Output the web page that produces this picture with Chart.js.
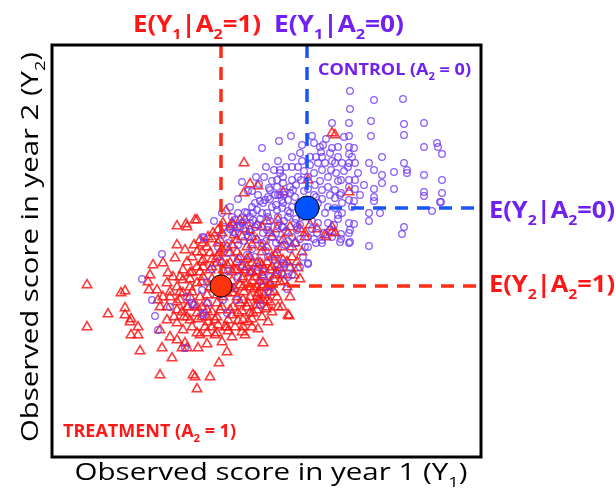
<!DOCTYPE html>
<html>
<head>
<meta charset="utf-8">
<script src="https://cdn.jsdelivr.net/npm/chart.js@4.4.0/dist/chart.umd.min.js"></script>
<style>
body { margin: 0; background: #fff; }
#wrap { width: 616px; height: 492px; }
</style>
</head>
<body>
<div id="wrap"><canvas id="chart" width="616" height="492"></canvas></div>
<script>
// observed scores (year 1, year 2)
const controlPoints = [
  [280,334],[239,321],[227,316],[260,321],[210,309],[280,309],[269,305],[271,312],[270,300],[266,294],[273,294],[240,290],[222,287],[228,287],[246,290],[279,287],[270,287],[231,280],[240,277],[249,277],[190,275],[217,269],[225,270],[233,265],[241,267],[263,272],[270,267],[276,270],[223,262],[230,257],[236,257],[243,260],[213,257],[203,254],[220,250],[230,249],[193,245],[201,244],[210,244],[216,240],[226,240],[236,240],[266,254],[273,244],[276,234],[266,234],[183,237],[190,234],[203,230],[216,230],[230,230],[243,234],[183,224],[196,220],[220,220],[240,220],[256,220],[270,217],[278,227],[186,212],[210,214],[233,212],[253,210],[270,214],[176,214],
  [298,366],[322,357],[351,358],[298,348],[297,334],[319,336],[352,333],[372,334],[297,321],[319,321],[352,322],[297,310],[302,309],[372,310],[385,314],[386,310],[390,303],[297,303],[330,300],[283,294],[290,294],[297,294],[303,294],[317,294],[322,287],[352,294],[342,285],[355,287],[355,284],[372,282],[330,282],[330,274],[342,268],[322,268],[390,277],[289,277],[297,277],[303,277],[297,270],[303,268],[283,267],[289,264],[372,265],[372,261],[390,264],[322,260],[322,256],[389,255],[283,259],[297,257],[302,256],[290,254],[283,249],[380,246],[317,244],[328,244],[286,242],[317,236],[286,238],[297,234],[302,233],[352,230],[350,223],[297,224],[289,223],[289,218],[297,214],[317,211],
  [388,255],[298,227],[298,215],[288,215],[280,220],[265,224],[256,210],[251,200],[256,194],[248,190],[235,168],[231,194],[230,184],[236,180],[225,187],[218,180],[211,185],
  [256,193],[240,182],[232,193],[216,165],[175,144],[151,144],[185,157],[156,154],[190,192],[203,200],[216,200],[195,202],[223,197],
  [110,203],[90,178],[118,150],[106,127],[100,157],[133,109],[141,152],[151,142],[150,167],[135,160],[155,175],[171,157],[208,152],[238,190],[185,230],[198,234],[211,224],[228,217],[245,227],[151,220],[103,141],[140,154],
  [207,273],[228,284],[225,277],[231,274],[218,267],[216,260],[228,262],[238,264],[211,254],[205,247],[231,254],[195,244],[191,235],[201,237],[215,244],[225,247],[238,244],[181,225],[198,225],[215,227],[231,230],[245,230],[152,219],
  [250,250],[258,256],[262,262],[252,266],[244,272],[256,280],[262,284],[250,296],[258,300],[248,304],[286,300],[280,296],[276,280],[284,284],[288,262],[260,244],[250,240],[246,252],[236,246],[226,262],[220,276],[206,262],[200,266],[212,280],[248,232],[260,236],[256,268],[268,276],[264,260],[276,250],[240,250],[232,236],[224,224],[206,232],[194,226],[186,244],[178,228],[170,222],[166,210],[176,204],[186,198],[200,208],[214,206],[226,208],[238,208],[244,214],[260,228],[264,214],[206,190],[198,186],[186,180],[176,186],[168,196],[160,188],[210,176],[220,170],[180,170],[168,164],
  [200,250],[208,256],[218,258],[224,252],[232,262],[238,270],[246,280],[252,286],[258,292],[264,300],[268,310],[274,318],[286,310],[292,320],[300,300],[292,286],[286,276],[278,262],[270,258],[262,250],[254,244],[244,238],[234,226],[226,232],[218,236],[208,238],[198,240],[188,230],[180,240],[172,230],[192,216],[204,218],[214,216],[224,214],[236,216],[248,218],[262,218],[272,224],[282,232],[290,244],[300,250],[308,262],[312,272],[306,284],[296,290],[278,304],[262,314],[250,312],[240,300],[234,290],[226,296],[214,290],[204,280],[196,266],[186,258],[178,250],[170,244],[162,236]
];
const treatmentPoints = [
  [280,324],[192,294],[198,273],[192,264],[206,271],[231,265],[256,277],[174,246],[180,234],[193,237],[210,230],[226,237],[143,237],[166,227],[156,220],[148,217],[166,214],[253,224],[273,222],[280,230],[220,220],[236,224],[200,220],[243,214],[210,210],
  [283,322],[297,265],[283,224],
  [274,220],[280,225],[253,220],[246,189],[238,189],[228,189],[223,202],[218,174],[211,170],[236,142],[211,114],[201,144],[215,157],[206,157],
  [237,141],[214,148],[218,155],[208,157],[193,122],[163,122],[155,113],[146,109],[175,105],[167,94],[158,80],[145,68],[143,80],[148,122],[183,130],[191,130],[173,130],[153,130],[176,137],[163,137],[186,144],[196,154],[206,164],[210,172],[218,172],[203,180],[223,182],[231,182],[220,190],[210,192],[200,194],[193,187],[183,187],
  [35,172],[35,130],[56,143],[69,164],[73,166],[73,149],[73,142],[79,138],[78,135],[86,130],[86,122],[79,122],[88,106],[108,82],[110,109],[120,99],[130,109],[135,109],[141,82],[98,182],[96,175],[101,192],[111,194],[116,184],[123,199],[125,212],[133,207],[142,212],[135,230],[125,231],[145,237],[151,214],[168,217],[178,230],[97,167],[105,167],[106,157],[108,150],[108,127],[115,137],[118,120],[125,134],[125,117],[131,127],[133,114],[138,137],[145,124],[155,124],[165,124],[175,130],[191,137],[198,144],[205,147],[215,150],[211,157],[118,160],[125,170],[131,177],[138,184],[145,190],[151,197],[158,204],[168,204],[178,204],[188,200],[198,200],[208,194],[218,187],[225,184],[198,184],[205,170],[198,160],[188,154],[178,147],[165,140],[155,140],[145,144],[135,150],[128,157],[138,160],[148,160],[155,154],[165,154],[171,160],[181,164],[191,170],[145,174],[151,180],[138,170],[131,164],[158,187],[171,187],[185,187],[191,180],[165,194],[178,194],[151,190],[131,187],[121,180],[115,174],[111,160],[115,150],[125,147],[135,140],[145,150],[155,147],[168,147],[181,150],[191,157],[205,160],[215,170],[211,180],[205,194],[195,210],[185,217],[205,217],[215,210],[225,204],[231,197],[231,217],[218,224],[198,227],[188,237],[161,224],[171,234],
  [134,233],[181,232],
  [150,175],[160,178],[170,180],[180,176],[190,178],[200,176],[210,182],[162,168],[172,170],[182,168],[192,165],[202,168],[212,162],[222,165],[155,162],[165,162],[175,164],[185,160],[195,150],[205,152],[160,145],[170,150],[180,142],[190,146],[200,138],[140,165],[142,152],[150,150],[130,145],[122,140],[175,192],[185,195],[195,190],[160,198],[170,208],[180,212],[190,220],[200,212],[210,205],[220,200],[230,210],[240,200],[150,205],[140,200],
  [135,195],[145,205],[155,210],[165,200],[175,210],[185,205],[195,198],[205,186],[215,195],[225,192],[235,195],[240,210],[250,205],[245,195],[228,175],[235,170],[225,160],[230,150],[220,145],[210,140],[200,130],[190,125],[180,120],[170,115],[160,130],[150,140],[140,130],[132,140],[125,155],[118,165],[128,180],[140,185],[150,195],[160,190],[170,195],[180,185],[190,190],[200,185],[212,188],[222,178],[232,176],[242,182],[248,178],[238,160],[226,150],[216,135],[206,128],[196,135],[186,136],[176,126],[166,132],[156,135],[146,138],[136,150],[128,165],[138,178],[148,185],[158,170],[168,175],[178,170],[188,172],[198,170],[208,176],[218,165],[160,218],[170,224],[182,222],[192,228],[205,232],[215,236],[225,228],[238,230],[248,228],[258,232],[265,228]
];
const controlMean = [255, 249];
const treatmentMean = [169, 171];
const xRange = [0, 429];
const yRange = [0, 412];

const redText = 'rgb(255,22,22)';
const purpleText = 'rgb(112,32,240)';

const toXY = pts => pts.map(p => ({ x: p[0], y: p[1] }));

// dashed guide lines from each mean to the frame
const guide = (pts, color) => ({
  data: toXY(pts),
  showLine: true,
  pointRadius: 0,
  borderColor: color,
  borderWidth: 3.5,
  borderDash: [13, 9],
  order: 1,
});

// text pieces: [text, isSubscript]
const topRed = [['E(Y', 0], ['1', 1], ['|A', 0], ['2', 1], ['=1)', 0]];
const topPurple = [['E(Y', 0], ['1', 1], ['|A', 0], ['2', 1], ['=0)', 0]];
const rightPurple = [['E(Y', 0], ['2', 1], ['|A', 0], ['2', 1], ['=0)', 0]];
const rightRed = [['E(Y', 0], ['2', 1], ['|A', 0], ['2', 1], ['=1)', 0]];
const controlTag = [['CONTROL (A', 0], ['2', 1], [' = 0)', 0]];
const treatTag = [['TREATMENT (A', 0], ['2', 1], [' = 1)', 0]];
const xTitle = [['Observed score in year 1 (Y', 0], ['1', 1], [')', 0]];
const yTitle = [['Observed score in year 2 (Y', 0], ['2', 1], [')', 0]];

const richText = (ctx, parts, o) => {
  const family = '"Open Sans", sans-serif';
  const sub = o.size * 0.62;
  const fnt = s => (o.bold ? 'bold ' : '') + s + 'px ' + family;
  const widths = parts.map(p => { ctx.font = fnt(p[1] ? sub : o.size); return ctx.measureText(p[0]).width; });
  const total = widths.reduce((a, b) => a + b, 0);
  ctx.save();
  ctx.translate(o.x, o.y);
  if (o.rotate) ctx.rotate(o.rotate);
  ctx.scale(o.width / total, 1);
  ctx.fillStyle = o.color;
  ctx.textBaseline = 'alphabetic';
  let cx = o.center ? -total / 2 : 0;
  parts.forEach((p, i) => {
    ctx.font = fnt(p[1] ? sub : o.size);
    ctx.fillText(p[0], cx, p[1] ? o.size * 0.3 : 0);
    cx += widths[i];
  });
  ctx.restore();
};

const framePlugin = {
  id: 'frame',
  afterDraw(chart) {
    const { ctx, chartArea: a } = chart;
    ctx.save();
    ctx.strokeStyle = '#000';
    ctx.lineWidth = 3;
    ctx.strokeRect(a.left, a.top, a.right - a.left, a.bottom - a.top);
    ctx.restore();
    richText(ctx, topRed, { x: 133, y: 32, size: 24, bold: true, color: redText, width: 128 });
    richText(ctx, topPurple, { x: 274, y: 32, size: 24, bold: true, color: purpleText, width: 130 });
    richText(ctx, rightPurple, { x: 489, y: 218, size: 24, bold: true, color: purpleText, width: 126 });
    richText(ctx, rightRed, { x: 489, y: 292, size: 24, bold: true, color: redText, width: 126 });
    richText(ctx, controlTag, { x: 318, y: 75, size: 16, bold: true, color: purpleText, width: 153 });
    richText(ctx, treatTag, { x: 63, y: 437, size: 17, bold: true, color: redText, width: 173 });
    richText(ctx, xTitle, { x: 271, y: 480, size: 24, color: '#000', width: 393, center: true });
    richText(ctx, yTitle, { x: 38, y: 247, size: 24, color: '#000', width: 390, center: true, rotate: -Math.PI / 2 });
  }
};

new Chart(document.getElementById('chart').getContext('2d'), {
  type: 'scatter',
  data: {
    datasets: [
      {
        data: [{ x: treatmentMean[0], y: treatmentMean[1] }],
        pointRadius: 11, backgroundColor: 'rgb(255,52,12)', borderColor: '#000', borderWidth: 1, order: 0,
      },
      {
        data: [{ x: controlMean[0], y: controlMean[1] }],
        pointRadius: 12, backgroundColor: 'rgb(0,82,255)', borderColor: '#000', borderWidth: 1, order: 0,
      },
      guide([[treatmentMean[0], yRange[1]], treatmentMean], 'rgb(255,45,20)'),
      guide([treatmentMean, [xRange[1], treatmentMean[1]]], 'rgb(255,45,20)'),
      guide([[controlMean[0], yRange[1]], controlMean], 'rgb(25,85,255)'),
      guide([controlMean, [xRange[1], controlMean[1]]], 'rgb(25,85,255)'),
      {
        data: toXY(controlPoints),
        pointStyle: 'circle', pointRadius: 3.3, borderWidth: 1.3,
        borderColor: 'rgba(110,55,245,0.8)', backgroundColor: 'rgba(0,0,0,0)', order: 2,
      },
      {
        data: toXY(treatmentPoints),
        pointStyle: 'triangle', pointRadius: 5.4, borderWidth: 1.6,
        borderColor: 'rgba(255,20,20,0.85)', backgroundColor: 'rgba(0,0,0,0)', order: 3,
      },
    ]
  },
  options: {
    responsive: false,
    animation: false,
    layout: { padding: { left: 52, right: 135, top: 45, bottom: 35 } },
    scales: {
      x: { type: 'linear', min: xRange[0], max: xRange[1], display: false },
      y: { type: 'linear', min: yRange[0], max: yRange[1], display: false },
    },
    plugins: { legend: { display: false }, tooltip: { enabled: false } },
  },
  plugins: [framePlugin],
});
</script>
</body>
</html>
